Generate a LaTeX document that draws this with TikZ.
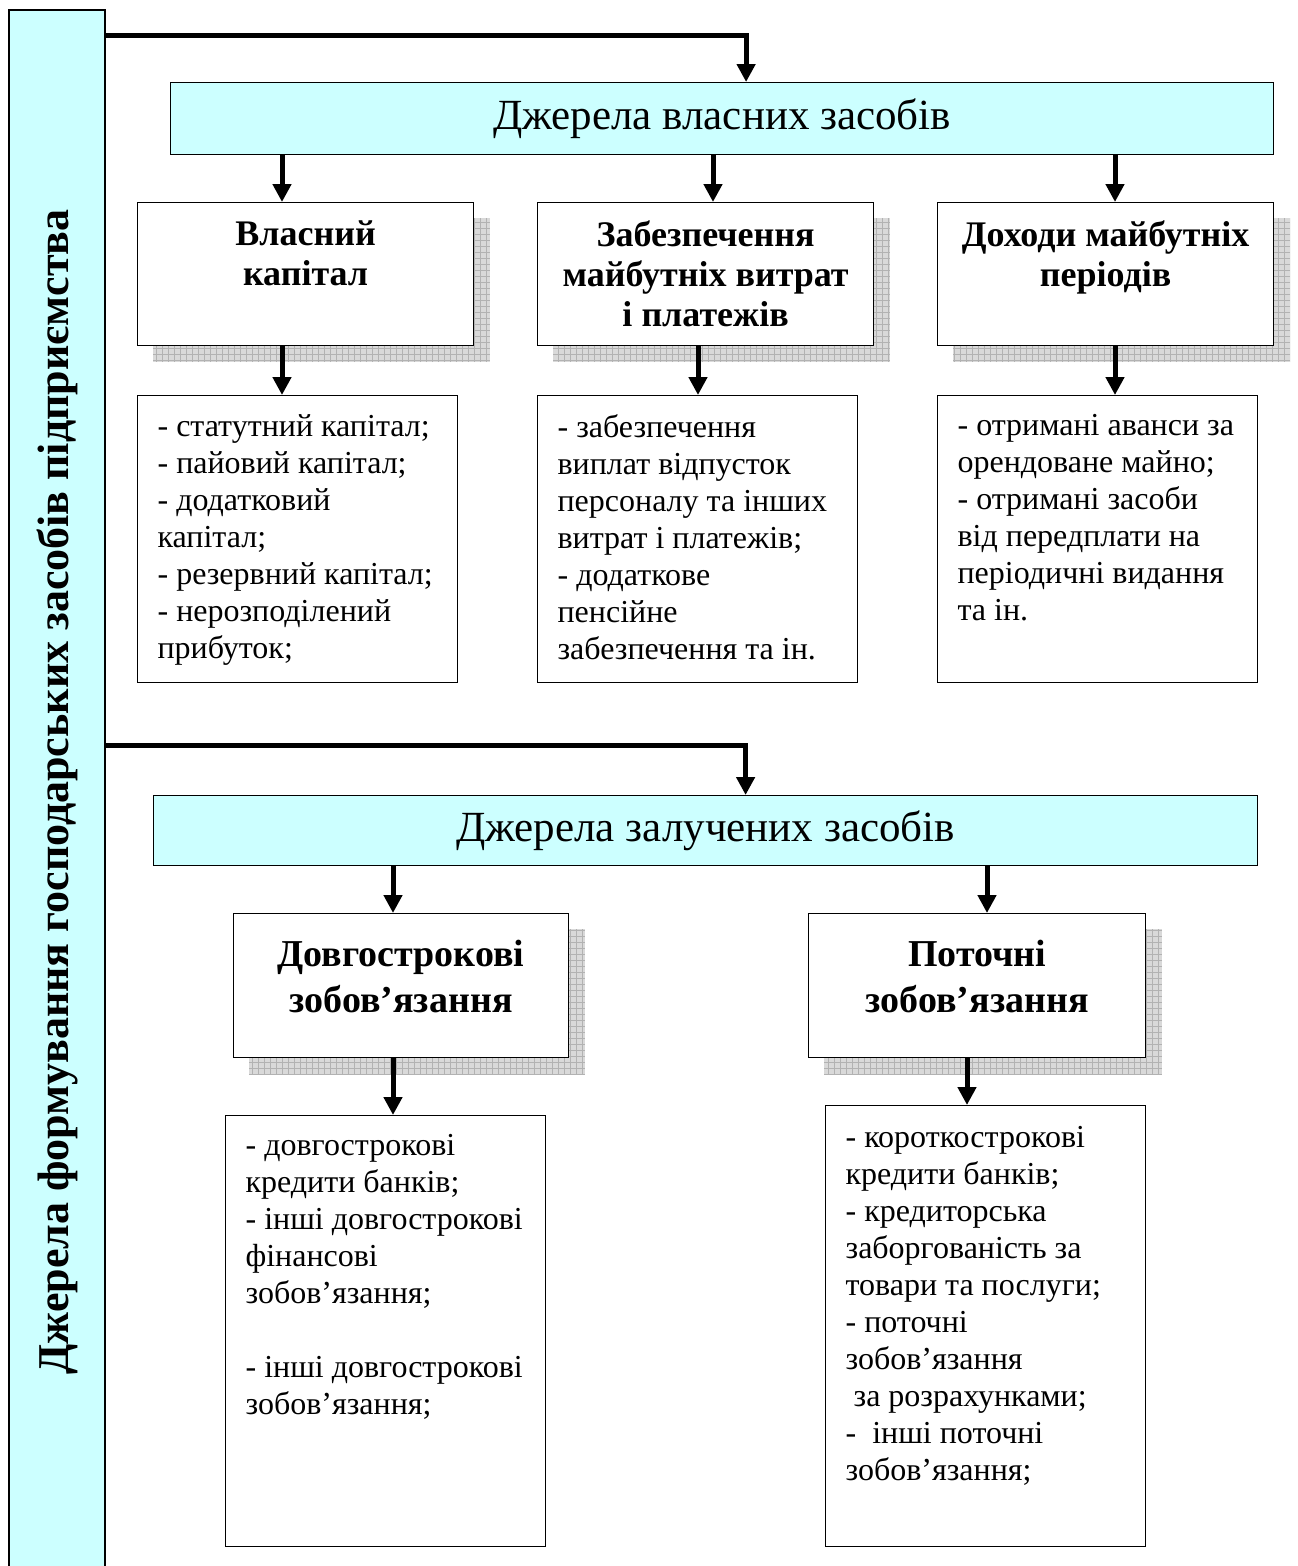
\documentclass[tikz,border=0pt]{standalone}
\usepackage{fontspec}
\setmainfont{Liberation Serif}
\usetikzlibrary{arrows.meta,backgrounds}
\definecolor{boxcyan}{HTML}{CCFFFF}

% grey chequered shadow behind a box
\newcommand{\boxshade}[1]{%
  \begin{scope}
    \clip ([shift={(16pt,-16pt)}]#1.south west) rectangle ([shift={(16pt,-16pt)}]#1.north east);
    \fill[gray!30] ([shift={(16pt,-16pt)}]#1.south west) rectangle ([shift={(16pt,-16pt)}]#1.north east);
    \draw[gray!60, step=6pt, line width=0.6pt] ([shift={(16pt,-16pt)}]#1.south west) grid ([shift={(16pt,-16pt)}]#1.north east);
  \end{scope}}

\tikzset{
  cyanbox/.style={draw, fill=boxcyan, line width=1.2pt},
  catbox/.style={draw, fill=white, line width=1.2pt, inner sep=0pt, anchor=north west,
    font=\fontsize{36}{40}\selectfont\bfseries},
  listbox/.style={draw, fill=white, line width=1.2pt, inner xsep=20pt, inner ysep=0pt,
    anchor=north west, font=\fontsize{32}{37}\selectfont},
  arr/.style={line width=5pt, -{Triangle[length=18pt,width=18pt]}},
}

\begin{document}
\begin{tikzpicture}[x=1pt,y=-1pt]
  \useasboundingbox (0,0) rectangle (1298,1566);

  % left bar
  \node[cyanbox, rotate=90, minimum width=1564pt, minimum height=96pt,
        font=\fontsize{44}{48}\selectfont\bfseries] (side) at (57,792)
        {Джерела формування господарських засобів підприємства};

  % own sources
  \node[cyanbox, anchor=north west, minimum width=1103pt, minimum height=72pt,
        font=\fontsize{43}{46}\selectfont] (own) at (170,82) {Джерела власних засобів};

  \node[catbox] (kap) at (137,202)
    {\parbox[t][143pt][t]{336pt}{\centering\vspace*{18pt}Власний\\капітал}};
  \node[catbox] (zab) at (537,202)
    {\parbox[t][143pt][t]{336pt}{\centering\vspace*{18pt}Забезпечення\\майбутніх витрат\\і платежів}};
  \node[catbox] (dokh) at (937,202)
    {\parbox[t][143pt][t]{336pt}{\centering\vspace*{18pt}Доходи майбутніх\\періодів}};

  \node[listbox] (kaplist) at (137,395)
    {\parbox[t][287pt][t]{280pt}{\raggedright\vspace*{19pt}%
      - статутний капітал;\\- пайовий капітал;\\- додатковий\\капітал;\\- резервний капітал;\\- нерозподілений\\прибуток;}};
  \node[listbox] (zablist) at (537,395)
    {\parbox[t][287pt][t]{280pt}{\raggedright\vspace*{19pt}%
      - забезпечення\\виплат відпусток\\персоналу та інших\\витрат і платежів;\\- додаткове\\пенсійне\\забезпечення та ін.}};
  \node[listbox] (dokhlist) at (937,395)
    {\parbox[t][287pt][t]{280pt}{\raggedright\vspace*{19pt}%
      - отримані аванси за\\орендоване майно;\\- отримані засоби\\від передплати на\\періодичні видання\\та ін.}};

  % borrowed sources
  \node[cyanbox, anchor=north west, minimum width=1104pt, minimum height=70pt,
        font=\fontsize{43}{46}\selectfont] (borr) at (153,795) {Джерела залучених засобів};

  \node[catbox, font=\fontsize{38}{46}\selectfont\bfseries] (long) at (233,913)
    {\parbox[t][144pt][t]{335pt}{\centering\vspace*{27pt}Довгострокові\\зобов’язання}};
  \node[catbox, font=\fontsize{38}{46}\selectfont\bfseries] (curr) at (808,913)
    {\parbox[t][144pt][t]{337pt}{\centering\vspace*{27pt}Поточні\\зобов’язання}};

  \node[listbox] (longlist) at (225,1115)
    {\parbox[t][431pt][t]{280pt}{\raggedright\vspace*{19pt}%
      - довгострокові\\кредити банків;\\- інші довгострокові\\фінансові\\зобов’язання;\\[37pt]- інші довгострокові\\зобов’язання;}};
  \node[listbox] (currlist) at (825,1105)
    {\parbox[t][441pt][t]{280pt}{\raggedright\vspace*{21pt}%
      - короткострокові\\кредити банків;\\- кредиторська\\заборгованість за\\товари та послуги;\\- поточні\\зобов’язання\\\hspace*{8pt}за розрахунками;\\-\hspace*{8pt} інші поточні\\зобов’язання;}};

  % shadows
  \begin{pgfonlayer}{background}
    \boxshade{kap}
    \boxshade{zab}
    \boxshade{dokh}
    \boxshade{long}
    \boxshade{curr}
  \end{pgfonlayer}

  % connectors
  \draw[arr] (side.south |- 0,35) -| ([xshift=24pt]own.north);
  \draw[arr] (side.south |- 0,745) -| ([xshift=40pt]borr.north);

  \draw[arr] (own.south -| 282,0) -- (kap.north -| 282,0);
  \draw[arr] (own.south -| 713,0) -- (zab.north -| 713,0);
  \draw[arr] (own.south -| 1115,0) -- (dokh.north -| 1115,0);

  \draw[arr] (kap.south -| 282,0) -- (kaplist.north -| 282,0);
  \draw[arr] (zab.south -| 698,0) -- (zablist.north -| 698,0);
  \draw[arr] (dokh.south -| 1115,0) -- (dokhlist.north -| 1115,0);

  \draw[arr] (borr.south -| 393,0) -- (long.north -| 393,0);
  \draw[arr] (borr.south -| 987,0) -- (curr.north -| 987,0);

  \draw[arr] (long.south -| 393,0) -- (longlist.north -| 393,0);
  \draw[arr] (curr.south -| 967,0) -- (currlist.north -| 967,0);
\end{tikzpicture}
\end{document}
